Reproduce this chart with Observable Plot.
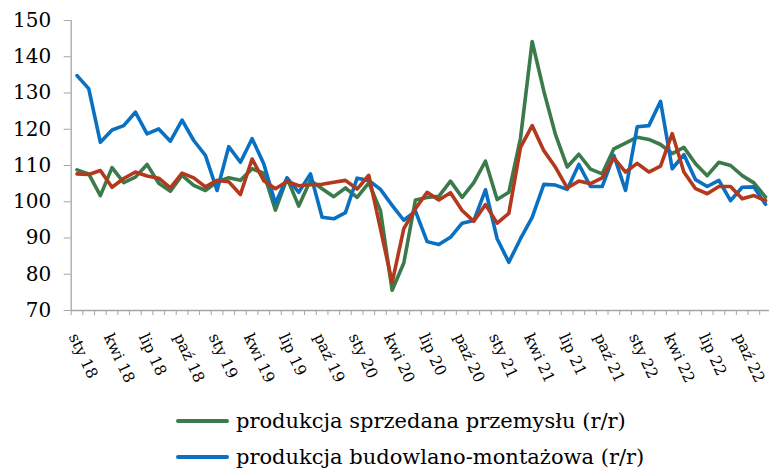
<!DOCTYPE html>
<html><head><meta charset="utf-8">
<script src="https://cdn.jsdelivr.net/npm/d3@7"></script>
<script src="https://cdn.jsdelivr.net/npm/@observablehq/plot@0.6"></script>
<style>
html,body{margin:0;padding:0;background:#fff;overflow:hidden;font-family:"DejaVu Serif",serif;}
#chart{position:absolute;left:0;top:0;}
#legend{position:absolute;left:176px;top:403px;}
.item{display:flex;align-items:center;height:36px;font-size:21px;color:#000;white-space:nowrap;}
.sw{width:53px;height:4px;margin-right:7px;border-radius:2px;}
</style></head><body>
<div id="chart"></div>
<div id="legend"></div>
<script>
const tickLabels = ["sty 18","kwi 18","lip 18","paź 18","sty 19","kwi 19","lip 19","paź 19","sty 20","kwi 20","lip 20","paź 20","sty 21","kwi 21","lip 21","paź 21","sty 22","kwi 22","lip 22","paź 22"];
const yTicks = [70,80,90,100,110,120,130,140,150];
const seriesNames = ["produkcja sprzedana przemysłu (r/r)","produkcja budowlano-montażowa (r/r)"];
const colors = ["#3b7a4a","#0a70c2","#b2391d"];

// produkcja sprzedana przemysłu (r/r), sty 18 – gru 22
const przemysl = [108.8,107.7,101.7,109.4,105.3,106.8,110.3,105.1,102.9,107.3,
  104.5,103.1,105.5,106.6,105.9,109.1,107.9,97.7,106.5,98.8,
  105.9,103.6,101.4,103.8,101.2,105.2,97.6,75.6,83.1,100.5,
  101.2,101.5,105.7,101.2,105.3,111.2,100.6,102.6,117.5,144.2,
  130.5,118.5,109.6,113.1,109.0,107.7,114.6,116.2,117.8,117.2,
  115.8,113.3,115.0,110.5,107.2,110.9,110.0,107.2,105.2,101.3];
// produkcja budowlano-montażowa (r/r)
const budowlana = [134.8,131.2,116.4,119.8,121.0,124.7,118.7,120.1,116.7,122.5,
  116.9,112.8,103.1,115.2,110.9,117.4,110.5,99.6,106.6,102.6,
  107.7,95.7,95.3,97.0,106.5,105.9,103.4,99.0,94.9,97.4,
  89.0,88.2,90.2,94.1,94.8,103.3,89.8,83.3,89.8,95.7,
  104.8,104.6,103.4,110.3,104.2,104.2,112.8,103.1,120.7,121.0,
  127.7,109.1,113.0,106.1,104.2,105.9,100.3,104.0,104.1,99.3];
// trzecia seria (brak w widocznej legendzie)
const seria3 = [107.7,107.5,108.6,104.0,106.4,108.2,107.1,106.5,103.8,107.9,
  106.6,104.1,105.9,105.5,102.0,111.8,105.8,103.6,105.6,104.4,
  104.7,104.8,105.4,105.9,103.5,107.3,92.5,77.7,92.6,98.1,
  102.6,100.5,102.5,97.6,94.6,99.2,94.1,96.8,115.0,121.0,
  114.1,109.5,103.8,105.7,105.0,106.6,112.1,108.2,110.6,108.2,
  109.8,118.8,108.2,103.6,102.2,104.2,104.2,100.8,101.7,100.3];

const n = przemysl.length;
const toRows = (vals) => vals.map((v, i) => ({i, v}));
const boundaries = d3.range(0, n + 1).map(k => k - 0.5);
const labelIdx = tickLabels.map((_, k) => k * 3);

const chart = Plot.plot({
  width: 769,
  height: 400,
  marginLeft: 70.7,
  marginRight: 0,
  marginTop: 20,
  marginBottom: 90,
  x: {type: "linear", domain: [-0.5, n - 0.5], range: [70.7, 70.7 + n * 11.67]},
  y: {domain: [70, 150], range: [310, 20]},
  style: {fontFamily: "DejaVu Serif, serif", background: "white", color: "black", overflow: "hidden"},
  marks: [
    Plot.ruleX([-0.5], {stroke: "#a6a6a6", strokeWidth: 1.3}),
    Plot.ruleY([70], {stroke: "#a6a6a6", strokeWidth: 1.3}),
    Plot.axisY({ticks: yTicks, tickSize: 7, tickPadding: 13, fontSize: 20, stroke: "#a6a6a6", fill: "black", label: null, tickFormat: d => String(d)}),
    Plot.axisX({ticks: boundaries, tickSize: 5, text: null, stroke: "#a6a6a6", label: null}),
    Plot.axisX({ticks: labelIdx, tickSize: 0, tickPadding: 24, dx: -4, tickFormat: i => tickLabels[i / 3],
      tickRotate: 65, textAnchor: "start", lineAnchor: "middle", fontSize: 15.5, fill: "black", label: null}),
    Plot.line(toRows(przemysl), {x: "i", y: "v", stroke: colors[0], strokeWidth: 3.6, strokeLinejoin: "round"}),
    Plot.line(toRows(budowlana), {x: "i", y: "v", stroke: colors[1], strokeWidth: 3.6, strokeLinejoin: "round"}),
    Plot.line(toRows(seria3), {x: "i", y: "v", stroke: colors[2], strokeWidth: 3.6, strokeLinejoin: "round"})
  ]
});
document.getElementById("chart").appendChild(chart);

const legend = document.getElementById("legend");
seriesNames.forEach((name, k) => {
  const item = document.createElement("div");
  item.className = "item";
  const sw = document.createElement("span");
  sw.className = "sw";
  sw.style.background = colors[k];
  const t = document.createElement("span");
  t.textContent = name;
  item.appendChild(sw);
  item.appendChild(t);
  legend.appendChild(item);
});
</script>
</body></html>
